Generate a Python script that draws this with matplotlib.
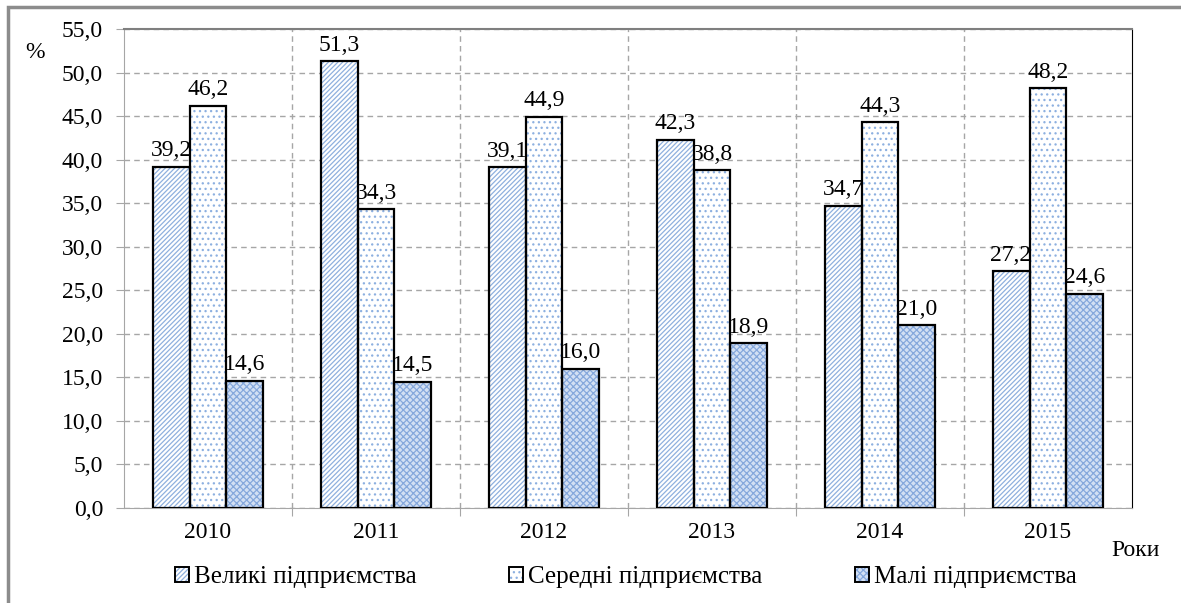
import matplotlib.pyplot as plt
import numpy as np
from matplotlib.patches import Patch, Rectangle
from matplotlib.legend_handler import HandlerTuple

# ---------------------------------------------------------------------
# Data
# ---------------------------------------------------------------------
years = ["2010", "2011", "2012", "2013", "2014", "2015"]
large = [39.2, 51.3, 39.1, 42.3, 34.7, 27.2]
medium = [46.2, 34.3, 44.9, 38.8, 44.3, 48.2]
small = [14.6, 14.5, 16.0, 18.9, 21.0, 24.6]
series_names = ["Великі підприємства", "Середні підприємства", "Малі підприємства"]
y_ticks = np.arange(0, 55.1, 5)

FAMILY = ["Liberation Serif", "DejaVu Serif"]
plt.rcParams["font.family"] = FAMILY
plt.rcParams["hatch.linewidth"] = 0.9
FS = 17

fig = plt.figure(figsize=(11.81, 6.03), dpi=100)
ax = fig.add_axes([0.105, 0.1575, 0.8535, 0.7944])

# outer frame (left / top edges visible in the reference)
fig.add_artist(Rectangle((8 / 1181, -0.05), 1.2, 1 - 7 / 603 + 0.05,
                         transform=fig.transFigure, fill=False,
                         edgecolor="#8c8c8c", linewidth=2.5))

x = np.arange(len(years))
width = 0.22
styles = [
    dict(face="white", hatch="///////", hcolor="#8fb0de"),
    dict(face="white", hatch="...", hcolor="#8db0e0"),
    dict(face="#d3e0f4", hatch="xxxxx", hcolor="#86a8dc"),
]

handles = []
for i, (vals, st) in enumerate(zip([large, medium, small], styles)):
    pos = x + (i - 1) * width
    ax.bar(pos, vals, width, color=st["face"], hatch=st["hatch"],
           edgecolor=st["hcolor"], linewidth=0, zorder=3)
    ax.bar(pos, vals, width, color="none", edgecolor="black",
           linewidth=1.6, zorder=4)
    for p, v in zip(pos, vals):
        ax.annotate(f"{v:.1f}".replace(".", ","), (p, v),
                    xytext=(0, 4), textcoords="offset points",
                    ha="center", va="bottom", fontsize=FS)
    handles.append((Patch(facecolor=st["face"], hatch=st["hatch"],
                          edgecolor=st["hcolor"], linewidth=0),
                    Patch(facecolor="none", edgecolor="black", linewidth=1.4)))

ax.set_xlim(-0.5, len(years) - 0.5)
ax.set_ylim(0, 55)
ax.set_yticks(y_ticks)
ax.set_yticklabels([f"{t:.1f}".replace(".", ",") for t in y_ticks], fontsize=FS)

ax.set_xticks(np.arange(0.5, len(years) - 0.5, 1))
ax.set_xticklabels([])
ax.set_xticks(x, minor=True)
ax.set_xticklabels(years, minor=True, fontsize=FS)
ax.tick_params(axis="x", which="minor", length=0, pad=10)
ax.tick_params(axis="x", which="major", length=6, color="#a6a6a6")
ax.tick_params(axis="y", length=6, color="#a6a6a6", pad=9)

ax.grid(True, which="major", axis="both", color="#a6a6a6",
        linestyle=(0, (4, 3)), linewidth=1, zorder=0)
ax.set_axisbelow(True)

ax.spines["left"].set_color("#a6a6a6")
ax.spines["bottom"].set_color("#a6a6a6")
ax.spines["top"].set_color("#7f7f7f")
ax.spines["top"].set_linewidth(1.5)
ax.spines["right"].set_color("black")

fig.text(35 / 1181, 1 - 52 / 603, "%", fontsize=FS, ha="center", va="center")
fig.text(1136 / 1181, 1 - 550 / 603, "Роки", fontsize=FS, ha="center", va="center")

fig.legend(handles, series_names, loc="center", ncol=3,
           bbox_to_anchor=(0.53, 1 - 577 / 603), frameon=False,
           prop={"family": FAMILY, "size": 18},
           handlelength=0.55, handleheight=0.55, handletextpad=0.2,
           columnspacing=3.7, handler_map={tuple: HandlerTuple(ndivide=1)})

fig.savefig("out.png", dpi=100)
